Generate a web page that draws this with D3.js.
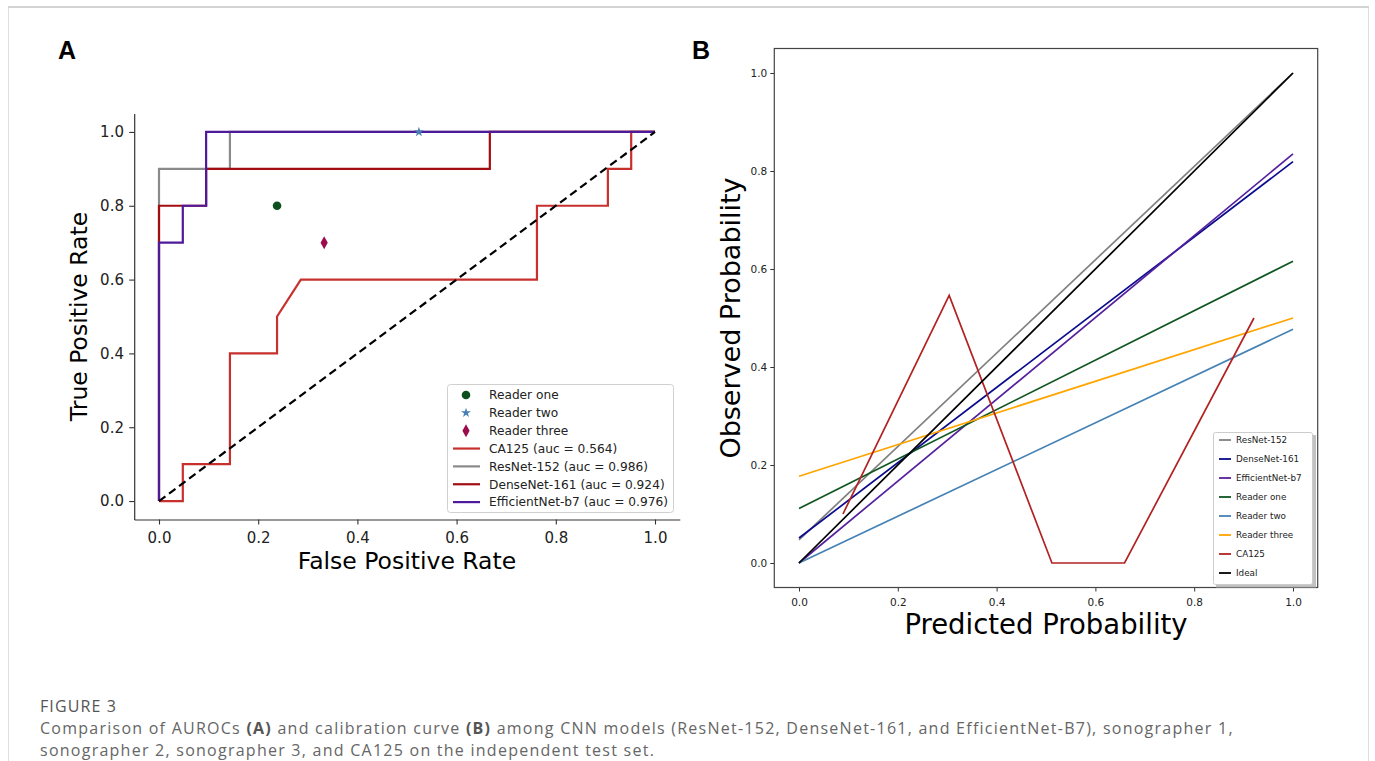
<!DOCTYPE html>
<html><head><meta charset="utf-8">
<script src="https://cdn.jsdelivr.net/npm/d3@7"></script>
<style>body{margin:0;background:#fff}svg{display:block}</style>
</head><body><svg id="c" width="1375" height="761"></svg>
<script>
// ---------- Panel A data (ROC) ----------
const rocNames = ["CA125 (auc = 0.564)", "ResNet-152 (auc = 0.986)", "DenseNet-161 (auc = 0.924)", "EfficientNet-b7 (auc = 0.976)"];
const rocColors = ["#c8302e", "#8a8a8a", "#a20d12", "#4d1a9c"];
const rocCA125 = [[0,0],[0.048,0],[0.048,0.1],[0.143,0.1],[0.143,0.4],[0.238,0.4],[0.238,0.5],[0.286,0.6],[0.762,0.6],[0.762,0.8],[0.905,0.8],[0.905,0.9],[0.952,0.9],[0.952,1.0],[1,1]];
const rocResNet = [[0,0],[0,0.9],[0.143,0.9],[0.143,1.0],[1,1]];
const rocDenseNet = [[0,0],[0,0.8],[0.095,0.8],[0.095,0.9],[0.667,0.9],[0.667,1.0],[1,1]];
const rocEfficient = [[0,0],[0,0.7],[0.048,0.7],[0.048,0.8],[0.095,0.8],[0.095,1.0],[1,1]];
const readerNames = ["Reader one", "Reader two", "Reader three"];
const readerPoints = [[0.238,0.8],[0.524,1.0],[0.333,0.7]];
const readerColors = ["#0d4f1e", "#4a7fb5", "#9c0c4c"];
const ticksA = [0, 0.2, 0.4, 0.6, 0.8, 1.0];

// ---------- Panel B data (calibration) ----------
const calNames = ["ResNet-152","DenseNet-161","EfficientNet-b7","Reader one","Reader two","Reader three","CA125","Ideal"];
const calColors = ["#808080","#0a0a8c","#55209e","#0d5420","#4682b4","#ffa500","#b22222","#000000"];
const calResNet = [[0,0.047],[1,1.0]];
const calDenseNet = [[0,0.051],[1,0.819]];
const calEfficient = [[0,0.0],[1,0.835]];
const calReader1 = [[0,0.111],[1,0.616]];
const calReader2 = [[0,0.0],[1,0.477]];
const calReader3 = [[0,0.177],[1,0.5]];
const calCA125 = [[0.089,0.1],[0.304,0.546],[0.512,0.0],[0.659,0.0],[0.921,0.5]];
const calIdeal = [[0,0],[1,1]];
const ticksB = [0, 0.2, 0.4, 0.6, 0.8, 1.0];

const svg = d3.select("#c");
const F = "'DejaVu Sans', sans-serif";
svg.append("rect").attr("width",1375).attr("height",761).attr("fill","#fff");
// figure frame
svg.append("path").attr("d","M8.5,761 V7.5 H1368.5 V761").attr("fill","none").attr("stroke","#dedede").attr("stroke-width",1);
svg.append("line").attr("x1",8).attr("x2",1369).attr("y1",7).attr("y2",7).attr("stroke","#d4d4d4").attr("stroke-width",2);

// panel letters
svg.append("text").attr("x",58).attr("y",59).text("A").attr("font-family","'Liberation Sans', Arial, sans-serif").attr("font-weight","bold").attr("font-size",25);
svg.append("text").attr("x",692).attr("y",59).text("B").attr("font-family","'Liberation Sans', Arial, sans-serif").attr("font-weight","bold").attr("font-size",25);

// ================= Panel A =================
const xA = d3.scaleLinear().domain([-0.05,1.05]).range([134.2,679.8]);
const yA = d3.scaleLinear().domain([-0.05,1.05]).range([519.5,113.5]);
const gA = svg.append("g");
const axXA = gA.append("g").attr("transform",`translate(0,${yA(-0.05)})`)
  .call(d3.axisBottom(xA).tickValues(ticksA).tickFormat(d3.format(".1f")).tickSize(5).tickSizeOuter(0));
const axYA = gA.append("g").attr("transform",`translate(${xA(-0.05)},0)`)
  .call(d3.axisLeft(yA).tickValues(ticksA).tickFormat(d3.format(".1f")).tickSize(5).tickSizeOuter(0));
[axXA, axYA].forEach(a=>{
  a.selectAll("path").attr("stroke","#333").attr("stroke-width",1.2);
  a.selectAll("line").attr("stroke","#333").attr("stroke-width",1.1);
  a.selectAll("text").attr("font-family",F).attr("font-size",15).attr("fill","#222");
});
axXA.selectAll("text").attr("dy","1.05em");
axYA.selectAll("text").attr("dx","-0.15em");
gA.append("text").attr("x",(xA(0)+xA(1))/2).attr("y",569).attr("text-anchor","middle")
  .attr("font-family",F).attr("font-size",23.5).text("False Positive Rate");
gA.append("text").attr("transform",`translate(87,${(yA(0)+yA(1))/2}) rotate(-90)`).attr("text-anchor","middle")
  .attr("font-family",F).attr("font-size",23.5).text("True Positive Rate");

const lineA = d3.line().x(d=>xA(d[0])).y(d=>yA(d[1]));
const rocSeries = [rocCA125, rocResNet, rocDenseNet, rocEfficient];
rocSeries.forEach((s,i)=>{
  gA.append("path").attr("d",lineA(s)).attr("fill","none").attr("stroke",rocColors[i]).attr("stroke-width",2.2);
});
gA.append("path").attr("d",lineA([[0,0],[1,1]])).attr("fill","none").attr("stroke","#000")
  .attr("stroke-width",2.2).attr("stroke-dasharray","8,4.5");

function drawMarker(g, i, x, y){
  if(i===0){
    g.append("circle").attr("cx",x).attr("cy",y).attr("r",4.3).attr("fill",readerColors[0]);
  } else if(i===1){
    g.append("path").attr("d",d3.symbol().type(d3.symbolStar).size(30)()).attr("transform",`translate(${x},${y})`).attr("fill",readerColors[1]);
  } else {
    g.append("path").attr("d",`M0,-6.5 L3.6,0 L0,6.5 L-3.6,0 Z`).attr("transform",`translate(${x},${y})`).attr("fill",readerColors[2]);
  }
}
readerPoints.forEach((p,i)=>drawMarker(gA,i,xA(p[0]),yA(p[1])));

// legend A
const legA = gA.append("g");
legA.append("rect").attr("x",447.5).attr("y",384.5).attr("width",226).attr("height",128).attr("rx",3)
  .attr("fill","#fff").attr("fill-opacity",0.85).attr("stroke","#d0d0d0");
const legAItems = readerNames.map((n,i)=>({name:n, kind:"m", i})).concat(rocNames.map((n,i)=>({name:n, kind:"l", i})));
legAItems.forEach((it,k)=>{
  const yy = 395 + k*17.85;
  if(it.kind==="m") drawMarker(legA, it.i, 466, yy);
  else legA.append("line").attr("x1",453).attr("x2",480).attr("y1",yy).attr("y2",yy).attr("stroke",rocColors[it.i]).attr("stroke-width",2.2);
  legA.append("text").attr("x",489).attr("y",yy).attr("dy","0.36em").attr("font-family",F).attr("font-size",12.2).attr("fill","#222").text(it.name);
});

// ================= Panel B =================
const xB = d3.scaleLinear().domain([-0.05,1.05]).range([774.3,1317.7]);
const yB = d3.scaleLinear().domain([-0.05,1.05]).range([587.5,48.5]);
const gB = svg.append("g");
const axXB = gB.append("g").attr("transform",`translate(0,${yB(-0.05)})`)
  .call(d3.axisBottom(xB).tickValues(ticksB).tickFormat(d3.format(".1f")).tickSize(4).tickSizeOuter(0));
const axYB = gB.append("g").attr("transform",`translate(${xB(-0.05)},0)`)
  .call(d3.axisLeft(yB).tickValues(ticksB).tickFormat(d3.format(".1f")).tickSize(4).tickSizeOuter(0));
[axXB, axYB].forEach(a=>{
  a.selectAll("path").attr("stroke","none");
  a.selectAll("line").attr("stroke","#333").attr("stroke-width",1);
  a.selectAll("text").attr("font-family",F).attr("font-size",10.5).attr("fill","#222");
});
axXB.selectAll("text").attr("dy","1.1em");
gB.append("rect").attr("x",xB(-0.05)).attr("y",yB(1.05)).attr("width",xB(1.05)-xB(-0.05)).attr("height",yB(-0.05)-yB(1.05))
  .attr("fill","none").attr("stroke","#444").attr("stroke-width",1.2);
gB.append("text").attr("x",(xB(0)+xB(1))/2).attr("y",634).attr("text-anchor","middle")
  .attr("font-family",F).attr("font-size",27.5).text("Predicted Probability");
gB.append("text").attr("transform",`translate(740,${(yB(0)+yB(1))/2}) rotate(-90)`).attr("text-anchor","middle")
  .attr("font-family",F).attr("font-size",27).text("Observed Probability");

const lineB = d3.line().x(d=>xB(d[0])).y(d=>yB(d[1]));
const calSeries = [calResNet, calDenseNet, calEfficient, calReader1, calReader2, calReader3, calCA125, calIdeal];
calSeries.forEach((s,i)=>{
  gB.append("path").attr("d",lineB(s)).attr("fill","none").attr("stroke",calColors[i]).attr("stroke-width",1.7);
});

// legend B
const legB = gB.append("g");
legB.append("rect").attr("x",1216).attr("y",435).attr("width",100).attr("height",153).attr("fill","#999").attr("opacity",0.6);
legB.append("rect").attr("x",1213.5).attr("y",432.5).attr("width",99).attr("height",152).attr("rx",2)
  .attr("fill","#fff").attr("stroke","#ccc");
calNames.forEach((n,k)=>{
  const yy = 440 + k*19;
  legB.append("line").attr("x1",1219).attr("x2",1231).attr("y1",yy).attr("y2",yy).attr("stroke",calColors[k]).attr("stroke-width",1.8);
  legB.append("text").attr("x",1236).attr("y",yy).attr("dy","0.36em").attr("font-family",F).attr("font-size",8.8).attr("fill","#222").text(n);
});

// ================= Caption =================
const CF = "'Open Sans', 'Noto Sans', sans-serif";
svg.append("text").attr("x",40).attr("y",712).attr("font-family",CF).attr("font-size",16).attr("fill","#555").attr("letter-spacing",1.1).text("FIGURE 3");
const cap1 = svg.append("text").attr("x",40).attr("y",734).attr("font-family",CF).attr("font-size",16).attr("fill","#666").attr("letter-spacing",1.25);
cap1.append("tspan").text("Comparison of AUROCs ");
cap1.append("tspan").attr("font-weight","bold").attr("fill","#555").text("(A)");
cap1.append("tspan").text(" and calibration curve ");
cap1.append("tspan").attr("font-weight","bold").attr("fill","#555").text("(B)");
cap1.append("tspan").text(" among CNN models (ResNet-152, DenseNet-161, and EfficientNet-B7), sonographer 1,");
svg.append("text").attr("x",40).attr("y",756).attr("font-family",CF).attr("font-size",16).attr("fill","#666").attr("letter-spacing",1.25)
  .text("sonographer 2, sonographer 3, and CA125 on the independent test set.");
</script></body></html>
